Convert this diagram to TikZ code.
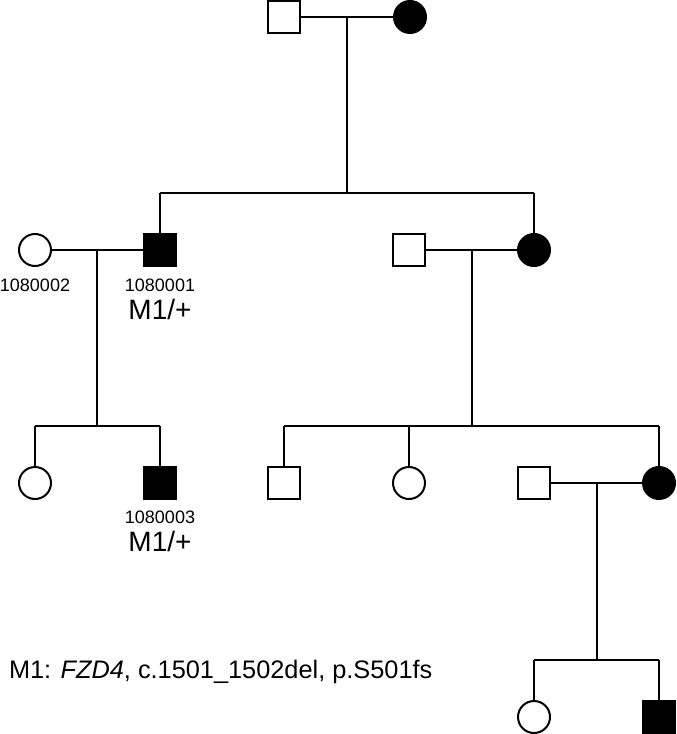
\documentclass[tikz,border=0pt]{standalone}
\usepackage{fontspec}
\setmainfont{Liberation Sans}

\tikzset{every picture/.style={line width=1.5pt}}
\tikzset{
	male/.style={draw, rectangle, minimum size=23.5pt, inner sep=0pt, fill=white},
	female/.style={draw, circle, minimum size=24pt, inner sep=0pt, fill=white},
	affected/.style={fill=black},
	idlabel/.style={font=\fontsize{13.5}{16}\selectfont, inner sep=0pt, anchor=base},
	genolabel/.style={font=\fontsize{21}{25}\selectfont, inner sep=0pt, anchor=base},
	legendtext/.style={font=\fontsize{19}{23}\selectfont, inner sep=0pt, anchor=base west},
}

\begin{document}
\begin{tikzpicture}[x=0.75pt,y=0.75pt,yscale=-1,xscale=1,line width=1.5pt]
	\useasboundingbox (0,0) rectangle (676,734); %set diagram size

	%Generation I
	\coordinate (c1) at (347,17);
	\coordinate (s1) at (347,193);
	\draw (c1) -- (s1);
	\node [male] (I1) at (284,17) {};
	\node [female, affected] (I2) at (410,17) {};
	\draw (I1.east) -- (I2.west);

	%Generation II
	\coordinate (s1l) at (160,193);
	\coordinate (s1r) at (534,193);
	\draw (s1l) -- (s1r);
	\node [female] (II1) at (35,250) {};
	\node [male, affected] (II2) at (160,250) {};
	\node [male] (II3) at (409,250) {};
	\node [female, affected] (II4) at (534,250) {};
	\draw (s1l) -- (II2.north);
	\draw (s1r) -- (II4.north);
	\draw (II1.east) -- (II2.west);
	\draw (II3.east) -- (II4.west);
	\node [idlabel] (id2) at (35,291) {1080002};
	\node [idlabel] (id1) at (160,291) {1080001};
	\node [genolabel] (g1) at (160,319) {M1/+};

	%Generation III
	\coordinate (c2) at (97,250);
	\coordinate (s2) at (97,426);
	\coordinate (s2l) at (35,426);
	\coordinate (s2r) at (160,426);
	\draw (c2) -- (s2);
	\draw (s2l) -- (s2r);
	\coordinate (c3) at (472,250);
	\coordinate (s3) at (472,426);
	\coordinate (s3l) at (284,426);
	\coordinate (s3m) at (409,426);
	\coordinate (s3r) at (659,426);
	\draw (c3) -- (s3);
	\draw (s3l) -- (s3r);
	\node [female] (III1) at (35,483) {};
	\node [male, affected] (III2) at (160,483) {};
	\node [male] (III3) at (284,483) {};
	\node [female] (III4) at (409,483) {};
	\node [male] (III5) at (534,483) {};
	\node [female, affected] (III6) at (659,483) {};
	\draw (s2l) -- (III1.north);
	\draw (s2r) -- (III2.north);
	\draw (s3l) -- (III3.north);
	\draw (s3m) -- (III4.north);
	\draw (s3r) -- (III6.north);
	\draw (III5.east) -- (III6.west);
	\node [idlabel] (id3) at (160,523) {1080003};
	\node [genolabel] (g3) at (160,551) {M1/+};

	%Generation IV
	\coordinate (c4) at (597,483);
	\coordinate (s4) at (597,660);
	\coordinate (s4l) at (534,660);
	\coordinate (s4r) at (659,660);
	\draw (c4) -- (s4);
	\draw (s4l) -- (s4r);
	\node [female] (IV1) at (534,717) {};
	\node [male, affected] (IV2) at (659,717) {};
	\draw (s4l) -- (IV1.north);
	\draw (s4r) -- (IV2.north);

	%Legend
	\node [legendtext] (legend) at (8,678) {M1: \textit{FZD4}, c.1501\_1502del, p.S501fs};

\end{tikzpicture}
\end{document}
